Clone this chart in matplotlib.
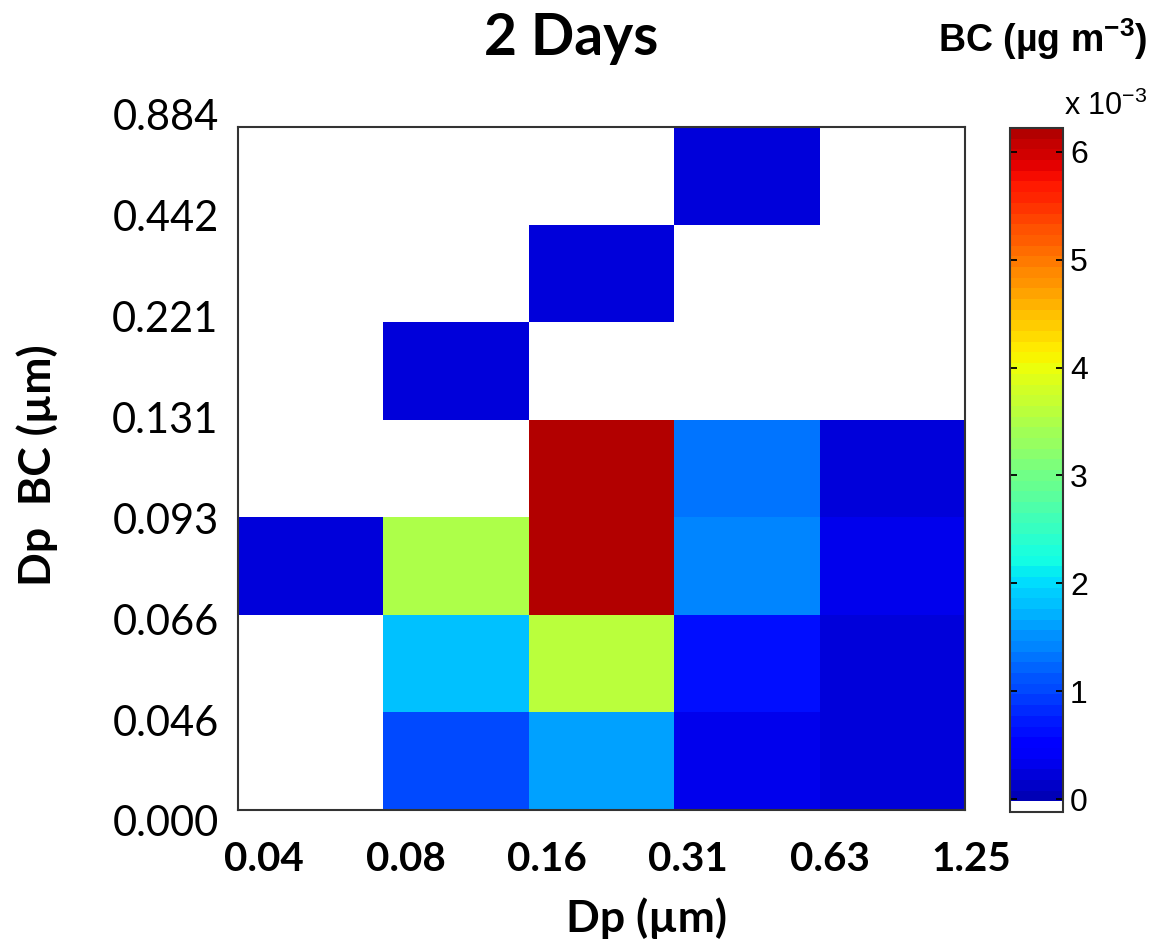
import numpy as np
import matplotlib
matplotlib.use('Agg')
import matplotlib.pyplot as plt
from matplotlib.colors import ListedColormap, Normalize
from matplotlib.transforms import ScaledTranslation

# mathtext in the same sans family as the colorbar text
plt.rcParams['mathtext.fontset'] = 'custom'
plt.rcParams['mathtext.rm'] = 'Liberation Sans'
plt.rcParams['mathtext.bf'] = 'Liberation Sans:bold'

# bin edges, used as tick labels
dp_edges = ['0.04', '0.08', '0.16', '0.31', '0.63', '1.25']
dp_bc_edges = ['0.000', '0.046', '0.066', '0.093', '0.131', '0.221', '0.442', '0.884']

# BC mass per bin in units of 10^-3 ug m-3, one list per Dp BC bin (bottom to top)
# a zero means the bin is empty and is left white
bc_000_046 = [0.0, 1.03, 1.60, 0.30, 0.26]
bc_046_066 = [0.0, 1.80, 3.58, 0.64, 0.26]
bc_066_093 = [0.26, 3.47, 6.20, 1.40, 0.32]
bc_093_131 = [0.0, 0.0, 6.20, 1.29, 0.26]
bc_131_221 = [0.0, 0.26, 0.0, 0.0, 0.0]
bc_221_442 = [0.0, 0.0, 0.26, 0.0, 0.0]
bc_442_884 = [0.0, 0.0, 0.0, 0.26, 0.0]

bc_values = np.ma.masked_equal(np.array([bc_000_046, bc_046_066, bc_066_093, bc_093_131,
                                         bc_131_221, bc_221_442, bc_442_884]), 0)

W, H = 1160, 944
fig = plt.figure(figsize=(W / 100, H / 100), dpi=100)
ax = fig.add_axes([238 / W, 1 - 810 / H, 727 / W, 683 / H])

# jet colormap in 63 steps with a white step at the bottom (matlab style)
colours = [(1, 1, 1, 1)] + list(plt.cm.jet(np.linspace(0.05, 0.955, 63)))
cmap = ListedColormap(colours)
cmap.set_bad('white')
norm = Normalize(vmin=-0.12, vmax=6.22)

mesh = ax.pcolormesh(np.arange(len(dp_edges)), np.arange(len(dp_bc_edges)), bc_values,
                     cmap=cmap, norm=norm)
ax.set_xlim(0, len(dp_edges) - 1)
ax.set_ylim(0, len(dp_bc_edges) - 1)

ax.set_xticks(np.arange(len(dp_edges)))
ax.set_xticklabels(dp_edges, fontfamily='Lato', fontweight='bold', fontsize=29)
ax.set_yticks(np.arange(len(dp_bc_edges)))
ax.set_yticklabels(dp_bc_edges, fontfamily='Lato', fontsize=30)
ax.tick_params(axis='x', length=0, pad=22)
ax.tick_params(axis='y', length=0, pad=14)

# the labels in the original sit a little off the bin edges
for lab, dx in zip(ax.get_xticklabels(), np.linspace(26, 6, len(dp_edges))):
    lab.set_transform(lab.get_transform() + ScaledTranslation(dx / 100, 0, fig.dpi_scale_trans))
for lab, dy in zip(ax.get_yticklabels(), np.linspace(11, -12, len(dp_bc_edges))):
    lab.set_transform(lab.get_transform() + ScaledTranslation(0, -dy / 100, fig.dpi_scale_trans))

for sp in ax.spines.values():
    sp.set_linewidth(1.5)
    sp.set_color('#333333')

# colorbar
cax = fig.add_axes([1010 / W, 1 - 812 / H, 53 / W, 684 / H])
cbar = fig.colorbar(mesh, cax=cax, ticks=range(7))
cbar.outline.set_linewidth(1.5)
cbar.outline.set_edgecolor('#333333')
cax.tick_params(direction='in', left=True, right=True, length=5, width=1.3,
                labelsize=23, pad=5)
for t in cax.get_yticklabels():
    t.set_fontfamily('Liberation Sans')

# titles and labels
fig.text(571 / W, 1 - 55 / H, '2 Days', ha='center', va='baseline',
         fontfamily='Lato', fontweight='bold', fontsize=41)
fig.text(647 / W, 1 - 932 / H, 'Dp (µm)', ha='center', va='baseline',
         fontfamily='Lato', fontweight='bold', fontsize=32)
fig.text(37 / W, 1 - 465 / H, 'Dp  BC (µm)', rotation=90, ha='center', va='center',
         fontfamily='Lato', fontweight='bold', fontsize=32)
fig.text(1147 / W, 1 - 52 / H, r'BC (µg m$^{\mathbf{-3}}$)', ha='right', va='baseline',
         fontfamily='Liberation Sans', fontweight='bold', fontsize=27)
fig.text(1147 / W, 1 - 115 / H, r'x 10$^{-3}$', ha='right', va='baseline',
         fontfamily='Liberation Sans', fontsize=22)

fig.savefig('out.png', dpi=100)
